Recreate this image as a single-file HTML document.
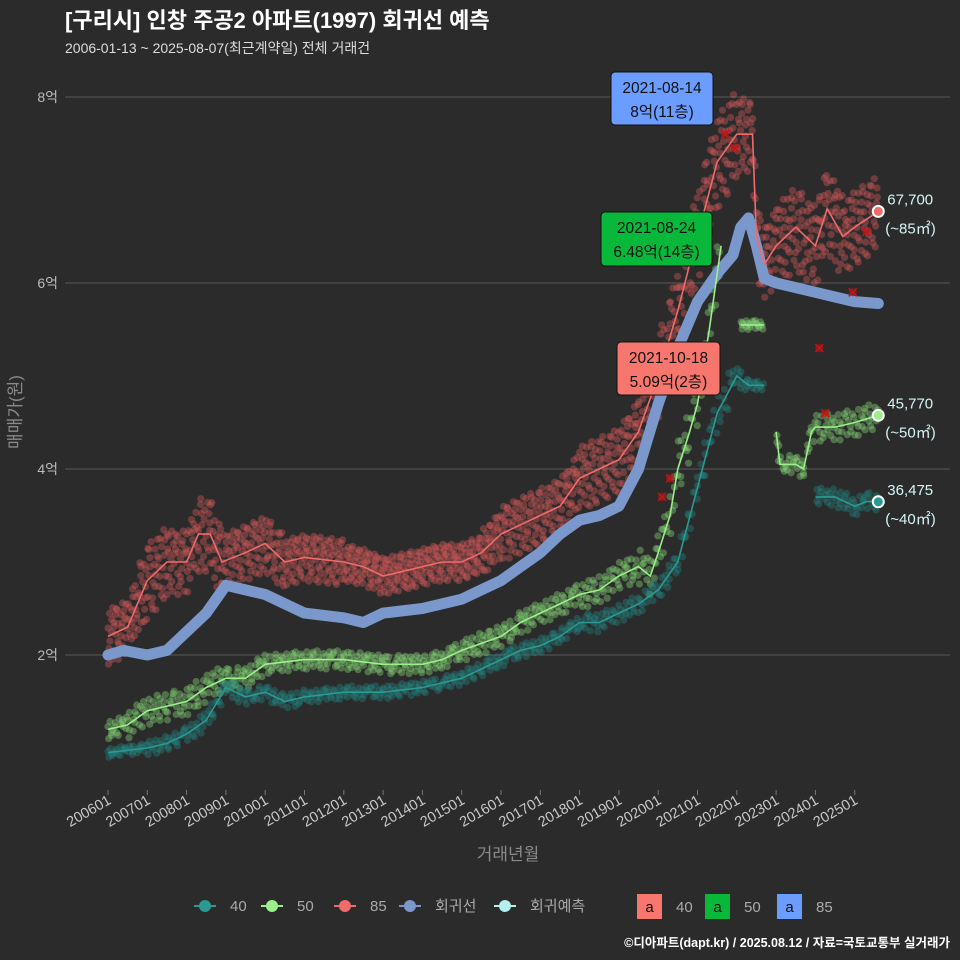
<!DOCTYPE html>
<html><head><meta charset="utf-8">
<style>
html,body{margin:0;padding:0;background:#2b2b2b;}
svg{display:block;font-family:"Liberation Sans","Noto Sans CJK KR",sans-serif;}
</style></head>
<body>
<svg id="chart" width="960" height="960" viewBox="0 0 960 960">
<rect x="0" y="0" width="960" height="960" fill="#2b2b2b"/>
<text x="65" y="28" font-size="22" font-weight="bold" fill="#ffffff">[구리시] 인창 주공2 아파트(1997) 회귀선 예측</text>
<text x="65" y="53" font-size="14" fill="#dddddd">2006-01-13 ~ 2025-08-07(최근계약일) 전체 거래건</text>
<g id="grid"></g>
<g id="dots"></g>
<g id="lines"></g>
<g id="ann"></g>
<text x="508" y="860" font-size="17" fill="#8a8a8a" text-anchor="middle">거래년월</text>
<text transform="translate(21,412) rotate(-90)" font-size="17" fill="#8a8a8a" text-anchor="middle">매매가(원)</text>
<g id="legend"></g>
<text x="950" y="947" font-size="12.5" font-weight="bold" fill="#ffffff" text-anchor="end">©디아파트(dapt.kr) / 2025.08.12 / 자료=국토교통부 실거래가</text>
</svg>
<script>
// ---- data (values in 억) ----
const yTicks = [2, 4, 6, 8];
const yTickLabels = ["2억", "4억", "6억", "8억"];
const xTicks = [2006,2007,2008,2009,2010,2011,2012,2013,2014,2015,2016,2017,2018,2019,2020,2021,2022,2023,2024,2025];
const xTickLabels = ["200601","200701","200801","200901","201001","201101","201201","201301","201401","201501","201601","201701","201801","201901","202001","202101","202201","202301","202401","202501"];

const t85 = [2006,2006.5,2006.8,2007,2007.5,2008,2008.3,2008.6,2008.9,2009.5,2010,2010.5,2011,2012,2012.5,2013,2013.5,2014,2014.5,2015,2015.5,2016,2016.5,2017,2017.5,2018,2018.5,2019,2019.5,2020,2020.5,2020.8,2021,2021.5,2022,2022.4,2022.5,2022.7,2023,2023.5,2024,2024.3,2024.7,2025,2025.6];
const v85 = [2.2,2.3,2.6,2.8,3.0,3.0,3.3,3.3,3.0,3.1,3.2,3.0,3.05,3.0,2.95,2.85,2.9,2.95,3.0,3.0,3.1,3.3,3.4,3.5,3.6,3.9,4.0,4.1,4.4,5.0,5.7,6.2,6.5,7.3,7.6,7.6,6.5,6.2,6.4,6.6,6.4,6.8,6.5,6.6,6.77];
const s85 = [0.3,0.3,0.4,0.4,0.35,0.35,0.4,0.4,0.3,0.3,0.3,0.25,0.25,0.2,0.2,0.2,0.2,0.2,0.2,0.2,0.25,0.3,0.3,0.3,0.3,0.35,0.35,0.35,0.4,0.45,0.5,0.5,0.5,0.5,0.4,0.4,0.4,0.4,0.45,0.45,0.45,0.45,0.4,0.4,0.3];

const tReg = [2006,2006.4,2007,2007.5,2008,2008.5,2009,2009.5,2010,2010.5,2011,2012,2012.5,2013,2014,2015,2015.5,2016,2016.5,2017,2017.5,2018,2018.5,2019,2019.5,2020,2020.5,2021,2021.5,2021.9,2022.1,2022.3,2022.5,2022.7,2023,2023.5,2024,2024.5,2025,2025.6];
const vReg = [2.0,2.05,2.0,2.05,2.25,2.45,2.75,2.7,2.65,2.55,2.45,2.4,2.35,2.45,2.5,2.6,2.7,2.8,2.95,3.1,3.3,3.45,3.5,3.6,4.0,4.7,5.3,5.8,6.1,6.3,6.6,6.7,6.4,6.05,6.0,5.95,5.9,5.85,5.8,5.78];

const t50 = [2006,2006.5,2007,2007.5,2008,2008.5,2009,2009.5,2010,2011,2012,2013,2014,2014.5,2015,2016,2016.5,2017,2017.5,2018,2018.5,2019,2019.5,2019.8,2020,2020.3,2020.5,2020.8,2021,2021.3,2021.6,null,2022.1,2022.7,null,2023,2023.1,2023.5,2023.7,2023.9,2024,2024.5,2025,2025.6];
const v50 = [1.2,1.25,1.4,1.45,1.5,1.65,1.75,1.75,1.9,1.95,1.95,1.9,1.9,1.95,2.05,2.2,2.35,2.45,2.55,2.65,2.7,2.85,2.95,2.85,3.1,3.5,4.0,4.4,4.7,5.5,6.4,null,5.55,5.55,null,4.4,4.05,4.05,4.0,4.4,4.45,4.45,4.5,4.577];
const s50 = [0.1,0.15,0.15,0.15,0.15,0.15,0.12,0.12,0.1,0.1,0.1,0.1,0.1,0.1,0.12,0.12,0.12,0.12,0.12,0.15,0.15,0.15,0.2,0.2,0.2,0.25,0.3,0.3,0.3,0.3,0.3,0,0.05,0.05,0,0.1,0.1,0.1,0.1,0.15,0.15,0.15,0.15,0.15];

const t40 = [2006,2007,2007.5,2008,2008.5,2009,2009.5,2010,2010.5,2011,2012,2013,2014,2015,2016,2016.5,2017,2017.5,2018,2018.5,2019,2019.5,2020,2020.5,2021,2021.5,2022,2022.3,2022.7,null,2024,2024.5,2025,2025.3,2025.6];
const v40 = [0.95,1.0,1.05,1.15,1.3,1.65,1.55,1.6,1.5,1.55,1.6,1.6,1.65,1.75,1.95,2.05,2.1,2.2,2.35,2.35,2.45,2.55,2.7,3.0,3.8,4.6,5.0,4.9,4.9,null,3.7,3.7,3.6,3.65,3.65];
const s40 = [0.05,0.08,0.08,0.1,0.1,0.1,0.08,0.08,0.08,0.07,0.07,0.07,0.07,0.08,0.08,0.08,0.08,0.08,0.1,0.1,0.1,0.1,0.12,0.15,0.2,0.2,0.1,0.05,0.05,0,0.1,0.1,0.1,0.1,0.1];

const jitter = [-1,0.3,-0.45,0.8,0.1,-0.75,0.55,-0.2,0.95,-0.6,0.25,-0.9,0.65,-0.05,0.4,-0.35,0.85];
const jitterT = [0.3,-0.8,0.55,-0.15,0.9,-0.5,0.05,-0.95,0.7,-0.3,0.45,-0.65,0.2];
const hiX = [2021.7, 2021.95, 2024.1, 2024.25, 2024.95, 2020.1, 2020.3, 2025.3];
const hiV = [7.6, 7.45, 5.3, 4.6, 5.9, 3.7, 3.9, 6.55];

// ---- scales ----
const X0 = 108, PXY = 39.3;
function xs(t){ return X0 + (t - 2006) * PXY; }
function ys(v){ return 655 - (v - 2) * 93; }
const NS = "http://www.w3.org/2000/svg";
function mk(tag, attrs, parent){ const e = document.createElementNS(NS, tag); for (const k in attrs) e.setAttribute(k, attrs[k]); parent.appendChild(e); return e; }

const grid = document.getElementById('grid');
yTicks.forEach((v, i) => {
  const l = mk('line', {x1:65, x2:950, y1:ys(v), y2:ys(v), stroke:'#5a5a5a', 'stroke-width':1}, grid);
  
  
  const tk = mk('text', {x:58, y:ys(v)+5, 'font-size':14, fill:'#bbbbbb', 'text-anchor':'end'}, grid);
  tk.textContent = yTickLabels[i];
  
  
});
xTicks.forEach((t, i) => {
  const x = xs(t);
  mk('line', {x1:x, x2:x, y1:790, y2:795, stroke:'#777'}, grid);
  const tk = mk('text', {transform:`translate(${x+4},${803}) rotate(-30)`, 'font-size':14.5, fill:'#c8c8c8', 'text-anchor':'end'}, grid);
  tk.textContent = xTickLabels[i];
  
  
});

function interp(ts, vs, t){
  for (let i = 0; i < ts.length - 1; i++){
    if (ts[i] === null || ts[i+1] === null) continue;
    if (t >= ts[i] && t <= ts[i+1]) { const f = (t - ts[i]) / (ts[i+1] - ts[i]); return [vs[i] + f*(vs[i+1]-vs[i]), i]; }
  }
  return null;
}
const dots = document.getElementById('dots');
function scatter(ts, vs, ss, color, name, step, per){
  let k = 0, m = 0;
  const start = ts[0], end = ts[ts.length-1];
  for (let t = start; t <= end; t += step){
    for (let j = 0; j < per; j++){
      const tt = Math.min(end, Math.max(start, t + jitterT[(m++) % jitterT.length] * step));
      const r = interp(ts, vs, tt); if (!r) continue;
      const s = ss[r[1]];
      const off = jitter[(k++) % jitter.length] * s;
      const c = mk('circle', {cx:xs(tt), cy:ys(r[0]+off), r:3.6, fill:color, 'fill-opacity':0.4}, dots);
      
      
    }
  }
}
scatter(t85, v85, s85, '#d85a5a', 'point-85', 0.045, 3);
scatter(t50, v50, s50, '#86d977', 'point-50', 0.06, 2);
scatter(t40, v40, s40, '#23857f', 'point-40', 0.07, 2);

const lines = document.getElementById('lines');
function path(ts, vs){
  let d = '', pen = false;
  ts.forEach((t, i) => { if (t === null){ pen = false; return; } d += (pen ? 'L' : 'M') + xs(t).toFixed(1) + ',' + ys(vs[i]).toFixed(1); pen = true; });
  return d;
}
const reg = mk('path', {d:path(tReg, vReg), fill:'none', stroke:'#7b98cc', 'stroke-width':11, 'stroke-linejoin':'round', 'stroke-linecap':'round'}, lines);


[[t40,v40,'#2a9a93','line-40'],[t50,v50,'#9bf08a','line-50'],[t85,v85,'#f26b6b','line-85']].forEach(a => {
  const p = mk('path', {d:path(a[0], a[1]), fill:'none', stroke:a[2], 'stroke-width':1.6}, lines);
  
  
});
hiX.forEach((t, i) => {
  const x = xs(t), y = ys(hiV[i]);
  const g = mk('path', {d:`M${x-4},${y-4}L${x+4},${y+4}M${x-4},${y+4}L${x+4},${y-4}`, stroke:'#d01010', 'stroke-width':1.5}, lines);
  mk('circle', {cx:x, cy:y, r:4, fill:'#c01515', 'fill-opacity':0.6}, lines);
  
  
});

const ann = document.getElementById('ann');
const endT = 2025.6;
[[67700, 6.77, '#f26b6b', '67,700', '(~85㎡)'], [45770, 4.577, '#9bf08a', '45,770', '(~50㎡)'], [36475, 3.6475, '#2a9a93', '36,475', '(~40㎡)']].forEach(e => {
  const x = xs(endT), y = ys(e[1]);
  const c = mk('circle', {cx:x, cy:y, r:5.5, fill:e[2], stroke:'#ffffff', 'stroke-width':2}, ann);
  
  
  const t1 = mk('text', {x:x+9, y:y-7, 'font-size':15, fill:'#d6f5f5'}, ann); t1.textContent = e[3];
  
  
  const t2 = mk('text', {x:x+7, y:y+22, 'font-size':15, fill:'#d6f5f5'}, ann); t2.textContent = e[4];
  
  
});
[[611,72,102,53,'#6b9cff','2021-08-14','8억(11층)','max-label-85'],[601,212,111,54,'#08b83a','2021-08-24','6.48억(14층)','max-label-50'],[617,342,103,53,'#f7766e','2021-10-18','5.09억(2층)','max-label-40']].forEach(b => {
  const r = mk('rect', {x:b[0], y:b[1], width:b[2], height:b[3], rx:4, fill:b[4], stroke:'#111', 'stroke-width':1}, ann);
  
  
  const a = mk('text', {x:b[0]+b[2]/2, y:b[1]+21, 'font-size':15.5, fill:'#111', 'text-anchor':'middle'}, ann); a.textContent = b[5];
  const c = mk('text', {x:b[0]+b[2]/2, y:b[1]+45, 'font-size':15.5, fill:'#111', 'text-anchor':'middle'}, ann); c.textContent = b[6];
});

const lg = document.getElementById('legend');
[[205,'#2a9a93','40'],[272,'#9bf08a','50'],[345,'#f26b6b','85'],[410,'#7b98cc','회귀선'],[505,'#b4f0f0','회귀예측']].forEach(e => {
  mk('line', {x1:e[0]-11, x2:e[0]+11, y1:906, y2:906, stroke:e[1], 'stroke-width':2}, lg);
  const c = mk('circle', {cx:e[0], cy:906, r:6, fill:e[1]}, lg);
  
  
  const t = mk('text', {x:e[0]+25, y:911, 'font-size':15, fill:'#aaaaaa'}, lg); t.textContent = e[2];
});
[[637,'#f7766e','40'],[705,'#08b83a','50'],[777,'#6b9cff','85']].forEach(e => {
  const r = mk('rect', {x:e[0], y:894, width:25, height:25, fill:e[1]}, lg);
  
  
  const a = mk('text', {x:e[0]+12.5, y:912, 'font-size':15, fill:'#111', 'text-anchor':'middle'}, lg); a.textContent = 'a';
  const t = mk('text', {x:e[0]+39, y:912, 'font-size':15, fill:'#aaaaaa'}, lg); t.textContent = e[2];
});
</script>
</body></html>
